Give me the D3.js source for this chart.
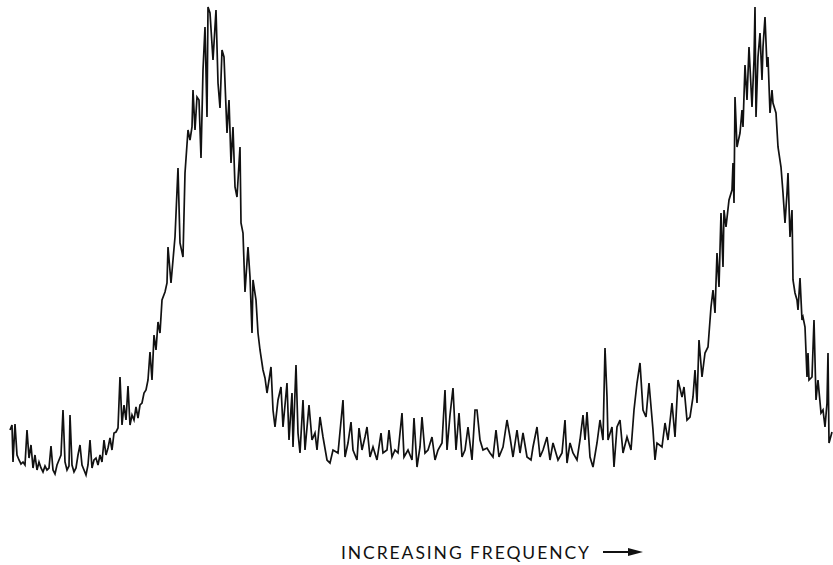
<!DOCTYPE html>
<meta charset="utf-8">
<style>
body { margin: 0; background: #fff; }
.trace {
  fill: none;
  stroke: #111;
  stroke-width: 1.7px;
  stroke-linejoin: miter;
}
.label {
  font-family: Lato, "Noto Sans", sans-serif;
  font-size: 17.5px;
  fill: #111;
}
</style>
<svg width="833" height="565"></svg>
<script src="https://d3js.org/d3.v7.min.js"></script>
<script>
// frequency (arbitrary units, increasing to the right)
var freq = [10,12,13,15,17,19,21,23,25,27,29,31,33,35,37,39,41,43,45,47,49,51,53,55,57,59,61,63,65,67,69,70,72,74,76,78,80,82,84,86,88,90,92,94,96,98,100,102,104,106,108,110,112,114,116,118,120,122,124,126,128,130,132,134,136,138,140,142,144,146,148,150,
  152,154,156,158,160,162,165,167,168,171,175,178,180,183,185,188,190,192,193,195,197,199,201,203,205,207,208,210,213,216,218,220,222,224,227,229,231,233,235,237,240,241,243,245,248,250,252,253,256,258,
  260,263,265,267,271,273,275,278,281,283,287,289,292,293,296,298,300,303,305,309,312,315,317,320,323,327,330,333,338,343,345,348,351,353,357,359,362,365,367,370,373,377,381,383,387,389,392,395,398,
  402,404,408,412,414,417,420,422,425,428,432,435,438,442,445,447,450,453,456,459,462,465,468,472,475,477,480,483,487,490,493,496,499,503,507,510,513,517,520,523,527,531,533,537,540,543,547,
  550,553,558,562,565,567,570,573,577,580,583,585,587,590,593,597,600,603,605,607,608,612,614,617,620,623,627,631,634,637,640,643,646,649,653,655,657,662,665,668,672,675,678,682,684,687,690,693,695,697,699,
  702,705,708,711,713,715,717,719,721,723,724,726,729,732,733,734,735,737,740,742,743,745,747,749,752,754,755,756,758,760,762,763,765,767,768,770,772,773,776,778,781,783,785,787,788,790,792,793,795,797,798,
  800,802,803,805,807,808,809,812,814,816,818,821,823,825,827,828,829,832];

// detector output (arbitrary units)
var signal = [50,55,18,56,25,20,16,18,15,50,22,35,12,25,10,18,12,8,14,10,12,34,10,6,15,20,25,70,18,10,14,65,15,8,12,25,35,15,10,5,15,40,12,20,22,15,25,18,40,25,32,42,30,47,48,52,103,55,75,60,94,55,65,60,73,62,75,77,87,90,100,128,
  100,145,130,158,147,180,188,197,233,197,243,312,237,223,307,350,340,353,390,350,383,380,322,410,453,363,473,467,420,470,397,372,430,423,347,380,317,353,293,283,333,257,247,188,233,203,147,200,180,147,
  130,110,102,87,113,70,53,80,93,53,97,40,87,33,115,47,27,80,30,75,40,47,30,63,43,20,17,30,27,80,23,37,58,30,20,52,30,43,53,23,33,20,47,27,30,50,23,30,27,
  67,23,30,20,62,13,33,63,27,30,43,20,30,37,90,30,65,92,30,67,23,30,53,20,70,70,40,30,32,27,23,50,23,33,60,43,23,50,27,47,23,20,33,53,23,30,43,
  20,37,20,27,60,17,37,27,20,40,65,40,68,23,13,37,60,40,132,83,40,53,13,53,60,27,43,30,70,97,117,70,63,97,50,20,37,33,57,40,77,43,100,83,93,60,63,83,110,77,140,
  103,127,133,173,190,167,227,193,267,213,270,253,280,290,317,277,383,333,347,370,353,415,380,433,373,420,473,363,423,447,400,433,463,413,423,367,390,377,367,333,313,287,257,287,307,243,270,200,187,180,170,
  202,160,163,153,103,127,100,103,160,80,100,67,70,53,77,127,37,48];

var xTicks = ["INCREASING FREQUENCY"];

var svg = d3.select("svg"),
    width = +svg.attr("width"),
    height = +svg.attr("height");

var x = d3.scaleLinear()
    .domain([0, 833])
    .range([0, 833]);
var y = d3.scaleLinear()
    .domain([0, 480])
    .range([480, 0]);

var data = freq.map(function(f, i) { return {f: f, s: signal[i]}; });

var line = d3.line()
    .x(function(d) { return x(d.f); })
    .y(function(d) { return y(d.s); });

svg.append("path")
    .datum(data)
    .attr("class", "trace")
    .attr("d", line);

// axis caption with arrow
var cap = svg.append("g").attr("transform", "translate(341,559)");
cap.append("text")
    .attr("class", "label")
    .attr("textLength", 248)
    .attr("lengthAdjust", "spacing")
    .text(xTicks[0]);
cap.append("line")
    .attr("x1", 262).attr("x2", 290)
    .attr("y1", -7).attr("y2", -7)
    .attr("stroke", "#111")
    .attr("stroke-width", 2);
cap.append("path")
    .attr("d", "M287,-11L302,-7L287,-3Z")
    .attr("fill", "#111");
</script>
